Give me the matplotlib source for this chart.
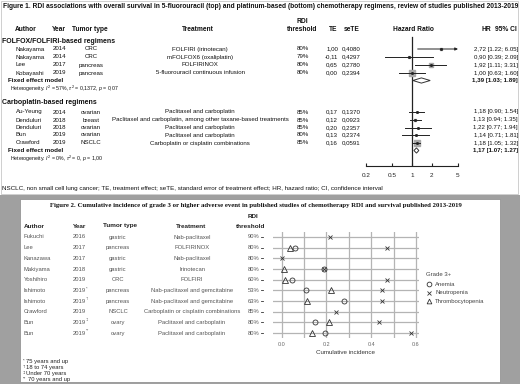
import matplotlib
matplotlib.use('Agg')
import matplotlib.pyplot as plt
import numpy as np
from matplotlib.patches import Rectangle, Polygon
from matplotlib.ticker import NullLocator

W, H = 520, 384

# ---------------- Figure 1 data (forest plot) ----------------
fol_author = ['Nakayama', 'Nakayama', 'Lee', 'Kobayashi']
fol_year = ['2014', '2014', '2017', '2019']
fol_tumor = ['CRC', 'CRC', 'pancreas', 'pancreas']
fol_treat = ['FOLFIRI (irinotecan)', 'mFOLFOX6 (oxaliplatin)', 'FOLFIRINOX',
             '5-fluorouracil continuous infusion']
fol_rdi = ['80%', '79%', '80%', '80%']
fol_te = [1.00, -0.11, 0.65, 0.00]
fol_sete = [0.4080, 0.4297, 0.2780, 0.2394]
fol_hr = [2.72, 0.90, 1.92, 1.00]
fol_lo = [1.22, 0.39, 1.11, 0.63]
fol_hi = [6.05, 2.09, 3.31, 1.60]
fol_pooled = [1.39, 1.03, 1.89]
fol_het = 'Heterogeneity: $I^2$ = 57%, $\\tau^2$ = 0,1372, $p$ = 0,07'

carb_author = ['Au-Yeung', 'Denduluri', 'Denduluri', 'Bun', 'Crawford']
carb_year = ['2014', '2018', '2018', '2019', '2019']
carb_tumor = ['ovarian', 'breast', 'ovarian', 'ovarian', 'NSCLC']
carb_treat = ['Paclitaxel and carboplatin',
              'Paclitaxel and carboplatin, among other taxane-based treatments',
              'Paclitaxel and carboplatin', 'Paclitaxel and carboplatin',
              'Carboplatin or cisplatin combinations']
carb_rdi = ['85%', '85%', '85%', '80%', '85%']
carb_te = [0.17, 0.12, 0.20, 0.13, 0.16]
carb_sete = [0.1370, 0.0923, 0.2357, 0.2374, 0.0591]
carb_hr = [1.18, 1.13, 1.22, 1.14, 1.18]
carb_lo = [0.90, 0.94, 0.77, 0.71, 1.05]
carb_hi = [1.54, 1.35, 1.94, 1.81, 1.32]
carb_pooled = [1.17, 1.07, 1.27]
carb_het = 'Heterogeneity: $I^2$ = 0%, $\\tau^2$ = 0, $p$ = 1,00'

hr_ticks = [0.2, 0.5, 1, 2, 5]

# ---------------- Figure 2 data (cumulative incidence) ----------------
f2_author = ['Fukuchi', 'Lee', 'Kanazawa', 'Makiyama', 'Yoshihiro', 'Ishimoto',
             'Ishimoto', 'Crawford', 'Bun', 'Bun']
f2_year = ['2016', '2017', '2017', '2018', '2019', '2019', '2019', '2019', '2019', '2019']
f2_mark = ['', '', '', '', '', '*', '\u2020', '', '\u2021', '**']
f2_tumor = ['gastric', 'pancreas', 'gastric', 'gastric', 'CRC', 'pancreas',
            'pancreas', 'NSCLC', 'ovary', 'ovary']
f2_treat = ['Nab-paclitaxel', 'FOLFIRINOX', 'Nab-paclitaxel', 'Irinotecan', 'FOLFIRI',
            'Nab-paclitaxel and gemcitabine', 'Nab-paclitaxel and gemcitabine',
            'Carboplatin or cisplatin combinations', 'Paclitaxel and carboplatin',
            'Paclitaxel and carboplatin']
f2_rdi = ['90%', '80%', '80%', '80%', '60%', '53%', '63%', '85%', '80%', '80%']
nan = np.nan
anemia = [nan, 0.06, nan, 0.19, 0.047, 0.11, 0.28, nan, 0.15, 0.195]
neutropenia = [0.215, 0.47, 0.0, 0.19, 0.47, 0.45, 0.45, 0.245, 0.435, 0.58]
thrombocytopenia = [nan, 0.038, nan, 0.012, 0.015, 0.22, 0.113, nan, 0.21, 0.137]
f2_notes = [('*', '75 years and up'), ('\u2020', '18 to 74 years'),
            ('\u2021', 'Under 70 years'), ('**', '70 years and up')]

SANS = 'Liberation Sans'
SERIF = 'Liberation Serif'
plt.rcParams['mathtext.fontset'] = 'custom'
plt.rcParams['mathtext.rm'] = SANS
plt.rcParams['mathtext.it'] = SANS + ':italic'


def dec(v, n=2):
    return f'{v:.{n}f}'.replace('.', ',')


def axpos(x0, y0, x1, y1):
    return [x0 / W, 1 - y1 / H, (x1 - x0) / W, (y1 - y0) / H]


fig = plt.figure(figsize=(W / 100, H / 100), dpi=100)
fig.patch.set_facecolor('white')
bg = fig.add_axes([0, 0, 1, 1], zorder=0)
bg.set_xlim(0, W)
bg.set_ylim(H, 0)
bg.axis('off')


def txt(x, y, s, size=4.4, ha='left', weight='normal', color='#111111', family=SANS):
    bg.text(x, y, s, fontsize=size, ha=ha, va='center', fontweight=weight,
            color=color, family=family)


# ---------- Figure 1 ----------
bg.add_patch(Rectangle((1, 1), 517, 193, fill=False, ec='#c8c8c8', lw=0.6))
txt(3, 6, 'Figure 1. RDI associations with overall survival in 5-fluorouracil (top) and '
    'platinum-based (bottom) chemotherapy regimens, review of studies published 2013-2019',
    size=4.75, weight='bold')

hy = 29.5
hs = 4.8
txt(15, hy, 'Author', hs, weight='bold')
txt(52, hy, 'Year', hs, weight='bold')
txt(90, hy, 'Tumor type', hs, ha='center', weight='bold')
txt(198, hy, 'Treatment', hs, ha='center', weight='bold')
txt(302, 21.5, 'RDI', hs, ha='center', weight='bold')
txt(302, hy, 'threshold', hs, ha='center', weight='bold')
txt(333, hy, 'TE', hs, ha='center', weight='bold')
txt(352, hy, 'seTE', hs, ha='center', weight='bold')
txt(413, hy, 'Hazard Ratio', hs, ha='center', weight='bold')
txt(482, hy, 'HR', hs, weight='bold')
txt(495, hy, '95% CI', hs, weight='bold')

fax = fig.add_axes(axpos(366, 34, 458, 166), zorder=2)
fax.set_facecolor('none')
fax.set_xscale('log')
fax.set_xlim(hr_ticks[0], hr_ticks[-1])
fax.set_ylim(166, 34)
for s in ['top', 'left', 'right']:
    fax.spines[s].set_visible(False)
fax.spines['bottom'].set_linewidth(0.8)
fax.spines['bottom'].set_color('#222222')
fax.set_yticks([])
fax.set_xticks(hr_ticks)
fax.set_xticklabels([f'{t:g}' for t in hr_ticks], fontsize=4.6, family=SANS)
fax.xaxis.set_minor_locator(NullLocator())
fax.tick_params(axis='x', direction='in', length=2.5, width=0.8, pad=5, colors='#222222')
fax.plot([1, 1], [37, 166], color='#222222', lw=0.9, zorder=1)

groups = [
    ('FOLFOX/FOLFIRI-based regimens', 41.5, [49, 57, 65, 73], 80.5, 89,
     fol_author, fol_year, fol_tumor, fol_treat, fol_rdi, fol_te, fol_sete,
     fol_hr, fol_lo, fol_hi, fol_pooled, fol_het),
    ('Carboplatin-based regimens', 103, [112, 120, 127.5, 135, 143], 150.5, 158.5,
     carb_author, carb_year, carb_tumor, carb_treat, carb_rdi, carb_te, carb_sete,
     carb_hr, carb_lo, carb_hi, carb_pooled, carb_het),
]

for (gname, gy, rows, fy, hety, au, yr, tu, tr, rdi, te, sete,
     hr, lo, hi, pooled, het) in groups:
    txt(2, gy, gname, 5.0, weight='bold')
    w = 1 / np.array(sete) ** 2
    side = 6.0 * w / w.max()
    for i, y in enumerate(rows):
        txt(16, y, au[i])
        txt(53, y, yr[i])
        txt(91, y, tu[i], ha='center')
        txt(200, y, tr[i], ha='center')
        txt(303, y, rdi[i], ha='center')
        txt(338, y, dec(te[i]), ha='right')
        txt(342, y, dec(sete[i], 4))
        txt(518, y, f'{dec(hr[i])} [{lo[i]:.2f}; {hi[i]:.2f}]', ha='right')
        # box (size from inverse-variance weight) and CI line
        fax.plot(hr[i], y, marker='s', ms=max(side[i], 1.2) * 0.72, mfc='#a8a8a8',
                 mec='#a8a8a8', ls='none', zorder=3, clip_on=False)
        if hi[i] > hr_ticks[-1]:
            fax.annotate('', xy=(hr_ticks[-1], y), xytext=(lo[i], y),
                         arrowprops=dict(arrowstyle='-|>', lw=0.7, color='#222222',
                                         mutation_scale=4, shrinkA=0, shrinkB=0),
                         zorder=4)
        else:
            fax.plot([lo[i], hi[i]], [y, y], color='#222222', lw=0.7, zorder=4)
        fax.plot(hr[i], y, marker='s', ms=1.0, color='#222222', ls='none', zorder=5)
    txt(8, fy, 'Fixed effect model', 4.5, weight='bold')
    txt(10, hety, het, 3.8)
    txt(518, fy, f'{dec(pooled[0])} [{pooled[1]:.2f}; {pooled[2]:.2f}]', ha='right',
        weight='bold')
    est, l, h = pooled
    fax.add_patch(Polygon([(l, fy), (est, fy - 2.6), (h, fy), (est, fy + 2.6)],
                          closed=True, fc='white', ec='#333333', lw=0.7, zorder=4))

txt(2, 188.5, 'NSCLC, non small cell lung cancer; TE, treatment effect; seTE, standard error '
    'of treatment effect; HR, hazard ratio; CI, confidence interval', 4.5)

# ---------- Figure 2 ----------
bg.add_patch(Rectangle((0, 195), W, H - 195, fc='#a0a0a0', ec='none'))
bg.add_patch(Rectangle((20, 199), 480, 182.5, fc='white', ec='#8a8a8a', lw=0.5))
txt(256, 205, 'Figure 2. Cumulative incidence of grade 3 or higher adverse event in published '
    'studies of chemotherapy RDI and survival published 2013-2019', 4.85, ha='center',
    weight='bold', family=SERIF)

hy2 = 226
txt(24, hy2, 'Author', 4.6, weight='bold', color='#222222')
txt(73, hy2, 'Year', 4.6, weight='bold', color='#222222')
txt(120, hy2, 'Tumor type', 4.6, ha='center', weight='bold', color='#222222')
txt(191, hy2, 'Treatment', 4.6, ha='center', weight='bold', color='#222222')
txt(253, 216, 'RDI', 4.6, ha='center', weight='bold', color='#222222')
txt(251, hy2, 'threshold', 4.6, ha='center', weight='bold', color='#222222')

row_y = [237 + 10.67 * i for i in range(len(f2_author))]
tc = '#555555'
for i, y in enumerate(row_y):
    txt(24, y, f2_author[i], 4.2, color=tc)
    txt(73, y, f2_year[i], 4.2, color=tc)
    if f2_mark[i]:
        txt(85.5, y - 2, f2_mark[i], 3.0, color=tc)
    txt(118, y, f2_tumor[i], 4.2, ha='center', color=tc)
    txt(192, y, f2_treat[i], 4.2, ha='center', color=tc)
    txt(248, y, f2_rdi[i], 4.2, color=tc)
    bg.plot([261, 263], [y, y], color='#333333', lw=0.6)

sax = fig.add_axes(axpos(273, 232, 419, 338), zorder=2)
sax.set_facecolor('white')
x0px, ppu = 281.5, 224.0
sax.set_xlim((273 - x0px) / ppu, (419 - x0px) / ppu)
sax.set_ylim((338 - 237) / 10.67, (232 - 237) / 10.67)
for s in sax.spines.values():
    s.set_visible(False)
sax.set_yticks([])
sax.set_xticks([0.0, 0.2, 0.4, 0.6])
sax.set_xticklabels(['0.0', '0.2', '0.4', '0.6'], fontsize=3.9, family=SANS, color='#666666')
sax.tick_params(axis='x', length=0, pad=3)
for gx in np.arange(0, 0.61, 0.1):
    sax.axvline(gx, color='#b4b4b4', lw=0.9, zorder=0)
for i in range(len(row_y)):
    sax.axhline(i, color='#b4b4b4', lw=0.9, zorder=0)
rows_idx = np.arange(len(row_y))
mk = dict(ls='none', color='#333333', mfc='none', mew=0.6, clip_on=False, zorder=3)
sax.plot(anemia, rows_idx, marker='o', ms=3.6, **mk)
sax.plot(neutropenia, rows_idx, marker='x', ms=3.3, **mk)
sax.plot(thrombocytopenia, rows_idx, marker='^', ms=3.8, **mk)
sax.set_xlabel('Cumulative incidence', fontsize=4.5, family=SANS, color='#333333', labelpad=2)

# legend
txt(426, 275, 'Grade 3+', 4.3, color='#444444')
leg = [('o', 'Anemia', 284), ('x', 'Neutropenia', 292.5), ('^', 'Thrombocytopenia', 301)]
for m, lab, y in leg:
    bg.plot(429, y, marker=m, ms=3.4, mfc='none', mec='#333333', mew=0.6, ls='none')
    txt(435, y, lab, 4.3, color='#444444')

for j, (sym, note) in enumerate(f2_notes):
    y = 362 + 6 * j
    txt(23, y - 1.2, sym, 3.0, color='#222222')
    txt(23 + 2.2 * len(sym) + 1, y, note, 4.2, color='#222222')

fig.savefig('out.png', dpi=100)
